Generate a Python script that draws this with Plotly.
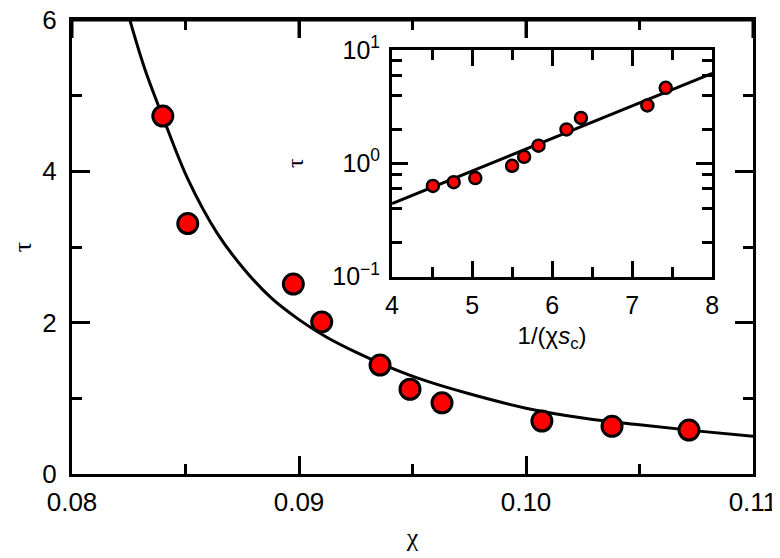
import plotly.graph_objects as go

# Main panel data
chi_data = [0.0840, 0.0851, 0.08975, 0.0910, 0.09357, 0.09489, 0.0963, 0.1007, 0.10379, 0.10718]
tau_data = [4.73, 3.31, 2.51, 2.01, 1.44, 1.12, 0.94, 0.70, 0.63, 0.58]

# Fitted curve in main panel
chi_fit = [0.0825, 0.0832, 0.0840, 0.0851, 0.0864, 0.0876, 0.0888, 0.0900, 0.0912, 0.0925,
           0.0940, 0.0955, 0.0975, 0.1000, 0.1025, 0.1050, 0.1075, 0.1100]
tau_fit = [6.05, 5.36, 4.72, 3.90, 3.18, 2.70, 2.32, 2.04, 1.81, 1.61,
           1.41, 1.24, 1.06, 0.87, 0.74, 0.65, 0.57, 0.50]

# Inset data: tau vs 1/(chi s_c)
u_data = [4.51, 4.77, 5.04, 5.50, 5.65, 5.83, 6.18, 6.36, 7.19, 7.42]
tau_in = [0.63, 0.68, 0.74, 0.95, 1.14, 1.43, 1.99, 2.51, 3.24, 4.63]
u_fit = [4.0, 8.0]
tau_in_fit = [0.44, 6.2]

main_xticks = [0.08, 0.09, 0.10, 0.11]
main_xticktext = ["0.08", "0.09", "0.10", "0.11"]
main_yticks = [0, 2, 4, 6]
inset_yticks = [0.1, 1, 10]
inset_yticktext = ["10<sup>\u22121</sup>", "10<sup>0</sup>", "10<sup>1</sup>"]
inset_yminor = [0.2, 0.4, 0.6, 0.8, 2, 4, 6, 8]

RED = "#ff0000"
SANS = "Liberation Sans, Arial, sans-serif"
SERIF = "Liberation Serif, Times New Roman, serif"

fig = go.Figure()

fig.add_trace(go.Scatter(x=chi_fit, y=tau_fit, mode="lines",
                         line=dict(color="black", width=3, shape="spline", smoothing=1.0),
                         xaxis="x", yaxis="y", showlegend=False, hoverinfo="skip"))
fig.add_trace(go.Scatter(x=chi_data, y=tau_data, mode="markers",
                         marker=dict(color=RED, size=20, line=dict(color="black", width=3)),
                         xaxis="x", yaxis="y", showlegend=False, cliponaxis=False))

fig.add_trace(go.Scatter(x=u_fit, y=tau_in_fit, mode="lines",
                         line=dict(color="black", width=3),
                         xaxis="x2", yaxis="y2", showlegend=False, hoverinfo="skip"))
fig.add_trace(go.Scatter(x=u_data, y=tau_in, mode="markers",
                         marker=dict(color=RED, size=12, line=dict(color="black", width=2.5)),
                         xaxis="x2", yaxis="y2", showlegend=False))

axis_common = dict(showline=True, linecolor="black", linewidth=3, mirror="ticks",
                   ticks="inside", tickcolor="black", tickwidth=3,
                   showgrid=False, zeroline=False, automargin=False,
                   ticklabeloverflow="allow")

# page body has an 8px margin, so the figure is offset by 8px; compensate
fig.update_layout(
    width=772, height=550,
    margin=dict(l=64, r=27, t=12, b=84),
    paper_bgcolor="white", plot_bgcolor="white",
    xaxis=dict(**axis_common, range=[0.08, 0.11], tickmode="array",
               tickvals=main_xticks, ticktext=main_xticktext, ticklen=18,
               minor=dict(dtick=0.005, ticklen=10, tickwidth=3, tickcolor="black", ticks="inside"),
               tickfont=dict(family=SANS, size=26, color="black"),
               ticklabelstandoff=3,
               title=dict(text="\u03c7", font=dict(family=SERIF, size=26, color="black"), standoff=12),
               domain=[0, 1]),
    yaxis=dict(**axis_common, range=[0, 6], tickmode="array", tickvals=main_yticks, ticklen=18,
               minor=dict(dtick=1, ticklen=10, tickwidth=3, tickcolor="black", ticks="inside"),
               tickfont=dict(family=SANS, size=26, color="black"),
               ticklabelstandoff=7,
               title=dict(text="\u03c4", font=dict(family=SERIF, size=26, color="black"), standoff=19),
               domain=[0, 1]),
    xaxis2=dict(**axis_common, range=[4, 8], dtick=1, tick0=4, ticklen=16,
                minor=dict(dtick=0.5, ticklen=10, tickwidth=3, tickcolor="black", ticks="inside"),
                tickfont=dict(family=SANS, size=25, color="black"),
                ticklabelstandoff=4,
                title=dict(text="1/(\u03c7<i>s</i><sub>c</sub>)", font=dict(family=SANS, size=24, color="black"),
                           standoff=10),
                domain=[0.470, 0.940], anchor="y2"),
    yaxis2=dict(**axis_common, type="log", range=[-1, 1], tickmode="array",
                tickvals=inset_yticks, ticktext=inset_yticktext, ticklen=16,
                minor=dict(tickmode="array", tickvals=inset_yminor, ticklen=10, tickwidth=3,
                           tickcolor="black", ticks="inside"),
                tickfont=dict(family=SANS, size=25, color="black"),
                ticklabelstandoff=4,
                title=dict(text="\u03c4", font=dict(family=SERIF, size=24, color="black"), standoff=22),
                domain=[0.435, 0.934], anchor="x2"),
)

# explicit top edge of the main frame, in paper coordinates
fig.add_shape(type="line", xref="paper", yref="paper", x0=0, x1=1, y0=1, y1=1,
              line=dict(color="black", width=3), layer="above")
# top ticks of the main frame
for v in main_xticks:
    fig.add_shape(type="line", xref="x", yref="paper", x0=v, x1=v, y0=1, y1=1 - 18 / 454,
                  line=dict(color="black", width=3), layer="above")
for i in range(len(main_xticks) - 1):
    m = (main_xticks[i] + main_xticks[i + 1]) / 2
    fig.add_shape(type="line", xref="x", yref="paper", x0=m, x1=m, y0=1, y1=1 - 10 / 454,
                  line=dict(color="black", width=3), layer="above")

fig.write_html("out.html", config={"displayModeBar": False})
